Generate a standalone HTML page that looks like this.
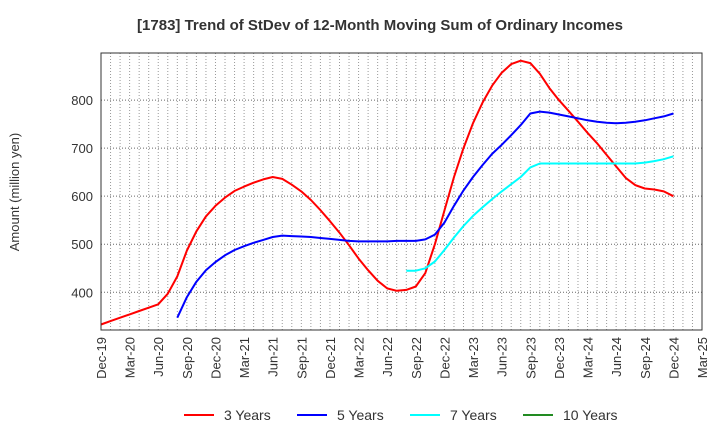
<!DOCTYPE html>
<html><head><meta charset="utf-8"><style>
body{margin:0;background:#fff;}
svg{display:block;font-family:"Liberation Sans",sans-serif;}
</style></head><body>
<svg id="chart" width="720" height="440">
<text x="380" y="30" text-anchor="middle" font-size="15" font-weight="bold" fill="#333">[1783]  Trend of StDev of 12-Month Moving Sum of Ordinary Incomes</text>
<text transform="translate(19,192) rotate(-90)" text-anchor="middle" font-size="13" fill="#333">Amount (million yen)</text>
<g id="grid"></g><g id="series"></g><g id="axes"></g>
<g>
<g><line x1="184" y1="415" x2="214" y2="415" stroke="#f00" stroke-width="2"/><text x="224" y="420" font-size="14" fill="#333">3 Years</text></g>
<g><line x1="297" y1="415" x2="327" y2="415" stroke="#00f" stroke-width="2"/><text x="337" y="420" font-size="14" fill="#333">5 Years</text></g>
<g><line x1="410" y1="415" x2="440" y2="415" stroke="#0ff" stroke-width="2"/><text x="450" y="420" font-size="14" fill="#333">7 Years</text></g>
<g><line x1="523" y1="415" x2="553" y2="415" stroke="#228b22" stroke-width="2"/><text x="563" y="420" font-size="14" fill="#333">10 Years</text></g>
</g>
</svg>
<script>
const xTickLabels=["Dec-19","Mar-20","Jun-20","Sep-20","Dec-20","Mar-21","Jun-21","Sep-21","Dec-21","Mar-22","Jun-22","Sep-22","Dec-22","Mar-23","Jun-23","Sep-23","Dec-23","Mar-24","Jun-24","Sep-24","Dec-24","Mar-25"];
const yTicks=[400,500,600,700,800];
// monthly values; start month index from Dec-19
const s3Start=0;
const s3=[333,340,347,354,361,368,375,397,433,487,527,558,580,597,611,620,628,635,640,636,624,610,592,571,548,524,498,470,446,424,408,403,405,412,440,500,570,640,700,752,795,830,857,875,882,877,855,825,800,778,755,732,710,686,662,638,623,616,614,610,600];
const s5Start=8;
const s5=[347,390,422,446,463,477,488,496,503,509,515,518,517,516,515,513,511,509,507,506,506,506,506,507,507,507,510,520,545,580,612,640,665,688,707,727,748,772,776,774,770,766,762,758,755,753,752,753,755,758,762,766,772];
const s7Start=32;
const s7=[445,445,450,464,488,514,538,559,577,594,610,625,640,660,668,668,668,668,668,668,668,668,668,668,668,670,673,677,683];
const X0=101,X1=702,Y0=53,Y1=330,NM=63,VMIN=321.5,VMAX=898;
const xs=m=>X0+(X1-X0)*m/NM;
const ys=v=>Y1-(v-VMIN)*(Y1-Y0)/(VMAX-VMIN);
const NS='http://www.w3.org/2000/svg';
function mk(t,a,p){const e=document.createElementNS(NS,t);for(const k in a)e.setAttribute(k,a[k]);p.appendChild(e);return e;}
const grid=document.getElementById('grid'),axes=document.getElementById('axes'),ser=document.getElementById('series');
for(let m=1;m<NM;m++){const l=mk('line',{x1:xs(m),x2:xs(m),y1:Y0,y2:Y1,stroke:'#999','stroke-width':1,'stroke-dasharray':'1,2'},grid);

}
yTicks.forEach(v=>{const l=mk('line',{x1:X0,x2:X1,y1:ys(v),y2:ys(v),stroke:'#666','stroke-width':1,'stroke-dasharray':'1,2'},grid);


const t=mk('text',{x:X0-8,y:ys(v)+5,'text-anchor':'end','font-size':13,fill:'#333'},axes);t.textContent=v;

});
xTickLabels.forEach((s,i)=>{const x=xs(i*3);const t=mk('text',{transform:`translate(${x+5},337) rotate(-90)`,'text-anchor':'end','font-size':13,fill:'#333'},axes);t.textContent=s;

});
const fr=mk('rect',{x:X0,y:Y0,width:X1-X0,height:Y1-Y0,fill:'none',stroke:'#333','stroke-width':1},axes);


function line(vals,start,col,name){const d=vals.map((v,i)=>(i?'L':'M')+xs(start+i).toFixed(1)+','+ys(v).toFixed(1)).join('');
const p=mk('path',{d:d,fill:'none',stroke:col,'stroke-width':2,'stroke-linejoin':'round'},ser);

}
line(s3,s3Start,'#f00','series-3-years');
line(s5,s5Start,'#00f','series-5-years');
line(s7,s7Start,'#0ff','series-7-years');
</script>
</body></html>
